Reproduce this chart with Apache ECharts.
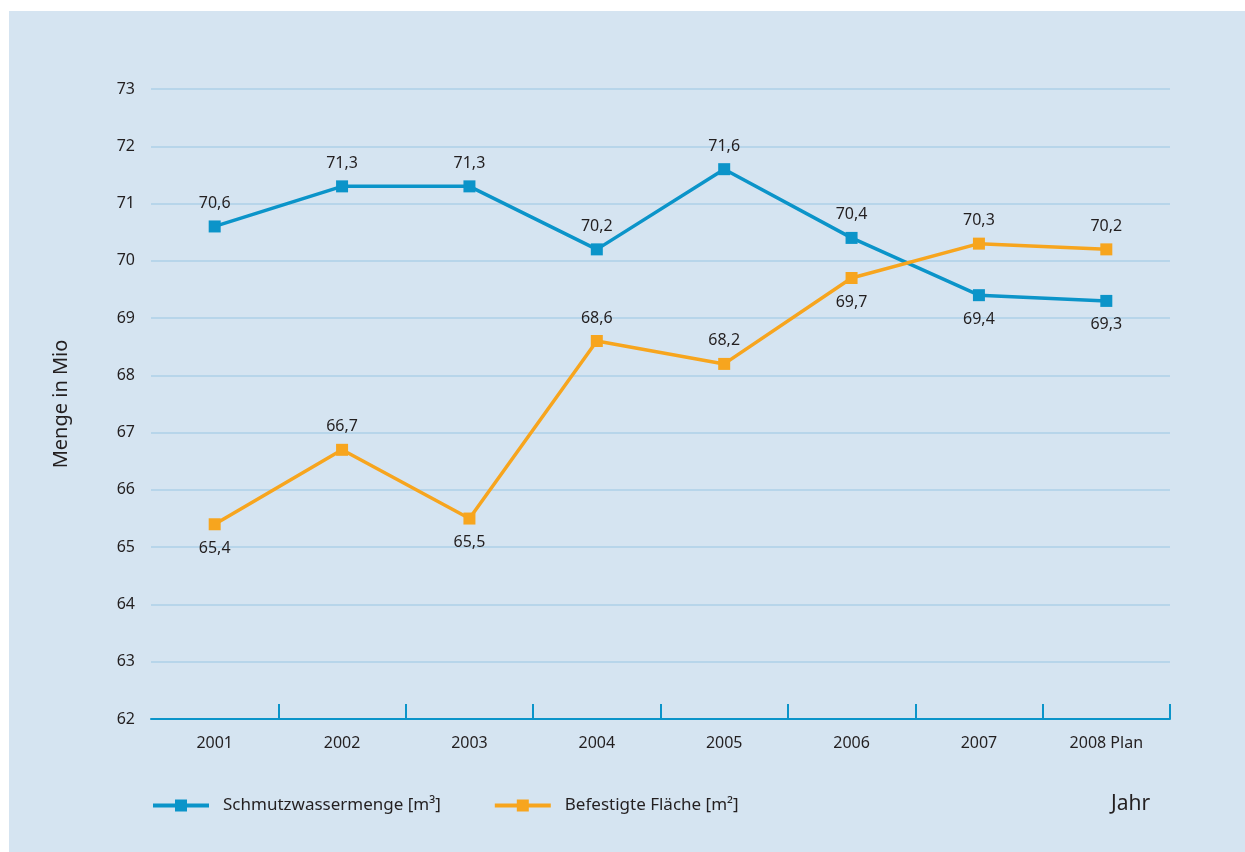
<!DOCTYPE html>
<html>
<head>
<meta charset="utf-8">
<script src="https://cdn.jsdelivr.net/npm/echarts@6/dist/echarts.min.js"></script>
<style>
  html, body { margin: 0; padding: 0; background: #fff; }
  #container { width: 1245px; height: 852px; }
</style>
</head>
<body>
<div id="container"></div>
<script>
var years = ['2001', '2002', '2003', '2004', '2005', '2006', '2007', '2008 Plan'];
var schmutzwasser = [70.6, 71.3, 71.3, 70.2, 71.6, 70.4, 69.4, 69.3];
var flaeche = [65.4, 66.7, 65.5, 68.6, 68.2, 69.7, 70.3, 70.2];
// label below the point (true) or above (false)
var blueBelow = [false, false, false, false, false, false, true, true];
var orangeBelow = [true, false, true, false, false, true, false, false];
var yMin = 62, yMax = 73, yStep = 1;

var blue = '#0b94c9';
var orange = '#f7a51e';
var textCol = '#231f20';
var font = 'Noto Sans';

function withLabels(values, below) {
    return values.map(function (v, i) {
        return {
            value: v,
            label: { position: below[i] ? 'bottom' : 'top', distance: below[i] ? 10 : 9 }
        };
    });
}

var myChart = echarts.init(document.getElementById('container'));
var option = {
    backgroundColor: 'transparent',
    animation: false,
    textStyle: { fontFamily: font, color: textCol },
    graphic: [
        {
            type: 'rect', z: -10, silent: true,
            shape: { x: 9, y: 11, width: 1236, height: 841 },
            style: { fill: '#d5e4f1' }
        },
        {
            type: 'text', left: 1111, top: 794,
            style: { text: 'Jahr', fontSize: 21, fontFamily: font, fill: textCol }
        }
    ],
    grid: { left: 151, right: 75, top: 89, bottom: 133 },
    legend: {
        left: 151, top: 797, padding: 0,
        itemWidth: 56, itemHeight: 15, itemGap: 52,
        lineStyle: { width: 4 },
        textStyle: { fontSize: 17, color: textCol, fontFamily: font, padding: [0, 0, 0, 9] },
        data: ['Schmutzwassermenge [m³]', 'Befestigte Fläche [m²]']
    },
    xAxis: {
        type: 'category',
        data: years,
        boundaryGap: true,
        axisLine: { lineStyle: { color: blue, width: 2 } },
        axisTick: {
            show: true, inside: true, length: 15,
            interval: function (index) { return index > 0; },
            lineStyle: { color: blue, width: 2 }
        },
        axisLabel: { fontSize: 16, color: textCol, margin: 16 }
    },
    yAxis: {
        type: 'value',
        min: yMin, max: yMax, interval: yStep,
        name: 'Menge in Mio',
        nameLocation: 'middle',
        nameGap: 80,
        nameTextStyle: { fontSize: 20, color: textCol },
        axisLine: { show: false },
        axisTick: { show: false },
        axisLabel: { fontSize: 16, color: textCol, margin: 16 },
        splitLine: { lineStyle: { color: '#b7d5ea', width: 2 } }
    },
    series: [
        {
            name: 'Schmutzwassermenge [m³]',
            type: 'line',
            data: withLabels(schmutzwasser, blueBelow),
            symbol: 'rect', symbolSize: 12,
            color: blue,
            lineStyle: { width: 3.5, color: blue },
            itemStyle: { color: blue },
            label: {
                show: true, fontSize: 16, color: textCol, fontFamily: font,
                formatter: function (p) { return String(p.value).replace('.', ','); }
            }
        },
        {
            name: 'Befestigte Fläche [m²]',
            type: 'line',
            data: withLabels(flaeche, orangeBelow),
            symbol: 'rect', symbolSize: 12,
            color: orange,
            lineStyle: { width: 3.5, color: orange },
            itemStyle: { color: orange },
            label: {
                show: true, fontSize: 16, color: textCol, fontFamily: font,
                formatter: function (p) { return String(p.value).replace('.', ','); }
            }
        }
    ]
};
myChart.setOption(option);
</script>
</body>
</html>
